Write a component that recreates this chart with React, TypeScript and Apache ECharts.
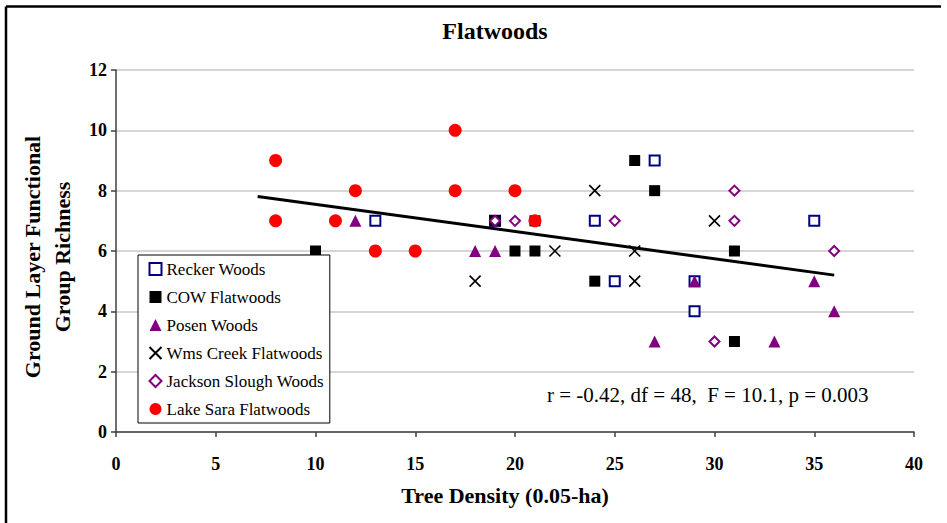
import React, { useEffect, useRef } from "react";
import * as echarts from "echarts";

const xTicks = [0, 5, 10, 15, 20, 25, 30, 35, 40];
const yTicks = [0, 2, 4, 6, 8, 10, 12];

const reckerX = [13, 19, 24, 25, 27, 29, 29, 35];
const reckerY = [7, 7, 7, 5, 9, 5, 4, 7];

const cowX = [10, 19, 20, 21, 21, 24, 26, 27, 31, 31];
const cowY = [6, 7, 6, 6, 7, 5, 9, 8, 6, 3];

const posenX = [12, 18, 19, 29, 35, 36, 27, 33];
const posenY = [7, 6, 6, 5, 5, 4, 3, 3];

const wmsX = [18, 19, 22, 24, 26, 26, 30];
const wmsY = [5, 7, 6, 8, 6, 5, 7];

const jacksonX = [19, 20, 25, 31, 31, 36, 30];
const jacksonY = [7, 7, 7, 8, 7, 6, 3];

const saraX = [8, 8, 11, 12, 13, 15, 17, 17, 20, 21];
const saraY = [9, 7, 7, 8, 6, 6, 8, 10, 8, 7];

const trendX = [7.1, 36];
const trendY = [7.81, 5.2];

const seriesNames = [
  "Recker Woods",
  "COW Flatwoods",
  "Posen Woods",
  "Wms Creek Flatwoods",
  "Jackson Slough Woods",
  "Lake Sara Flatwoods",
];

const FONT = "Liberation Serif";

const zip = (xs: number[], ys: number[]) => xs.map((x, i) => [x, ys[i]]);

export default function App() {
  const ref = useRef<HTMLDivElement>(null);
  useEffect(() => {
    if (!ref.current) return;
    const chart = echarts.init(ref.current, null, { renderer: "svg" });
    chart.setOption({
      animation: false,
      backgroundColor: "#ffffff",
      textStyle: { fontFamily: FONT },
      grid: { left: 116, right: 33, top: 70, bottom: 91, containLabel: false },
      xAxis: {
        type: "value",
        min: xTicks[0],
        max: xTicks[xTicks.length - 1],
        interval: 5,
        axisLine: { show: true, onZero: false, lineStyle: { color: "#404040", width: 1.5 } },
        axisTick: { show: true, inside: false, length: 5, lineStyle: { color: "#404040", width: 1.5 } },
        axisLabel: { margin: 23, color: "#000", fontFamily: FONT, fontWeight: "bold", fontSize: 18 },
        splitLine: { show: false },
      },
      yAxis: {
        type: "value",
        min: yTicks[0],
        max: yTicks[yTicks.length - 1],
        interval: 2,
        axisLine: { show: true, onZero: false, lineStyle: { color: "#404040", width: 1.5 } },
        axisTick: { show: true, inside: false, length: 5, lineStyle: { color: "#404040", width: 1.5 } },
        axisLabel: { margin: 9, color: "#000", fontFamily: FONT, fontWeight: "bold", fontSize: 18 },
        splitLine: { show: true, lineStyle: { color: "#c8c8c8", width: 1.5 } },
      },
      legend: {
        show: true,
        orient: "vertical",
        left: 138,
        top: 255,
        data: seriesNames,
        itemWidth: 12,
        itemHeight: 12,
        itemGap: 10,
        padding: [5, 6, 5, 9],
        backgroundColor: "#ffffff",
        borderColor: "#000",
        borderWidth: 1,
        borderRadius: 0,
        textStyle: { fontFamily: FONT, fontSize: 17, lineHeight: 18, color: "#000" },
      },
      graphic: [
        { type: "line", shape: { x1: 6, y1: 6.5, x2: 941, y2: 6.5 }, style: { stroke: "#000", lineWidth: 2.5 } },
        { type: "line", shape: { x1: 6, y1: 6.5, x2: 6, y2: 523 }, style: { stroke: "#000", lineWidth: 2.5 } },
        {
          type: "text",
          x: 495,
          y: 31,
          style: { text: "Flatwoods", font: `bold 24px "${FONT}"`, fill: "#000", textAlign: "center", textVerticalAlign: "middle" },
        },
        {
          type: "text",
          x: 47,
          y: 257,
          rotation: Math.PI / 2,
          style: {
            text: "Ground Layer Functional\nGroup Richness",
            font: `bold 22px "${FONT}"`,
            fill: "#000",
            textAlign: "center",
            textVerticalAlign: "middle",
            lineHeight: 30,
          },
        },
        {
          type: "text",
          x: 505,
          y: 495,
          style: { text: "Tree Density (0.05-ha)", font: `bold 22px "${FONT}"`, fill: "#000", textAlign: "center", textVerticalAlign: "middle" },
        },
        {
          type: "text",
          x: 547,
          y: 395,
          z: 10,
          style: { text: "r = -0.42, df = 48,  F = 10.1, p = 0.003", font: `21px "${FONT}"`, fill: "#000", textAlign: "left", textVerticalAlign: "middle" },
        },
      ],
      series: [
        {
          name: "trend",
          type: "line",
          data: zip(trendX, trendY),
          showSymbol: false,
          symbol: "none",
          lineStyle: { color: "#000", width: 3 },
          z: 1,
        },
        {
          name: seriesNames[0],
          type: "scatter",
          data: zip(reckerX, reckerY),
          symbol: "rect",
          symbolSize: 10,
          itemStyle: { color: "#ffffff", borderColor: "#000080", borderWidth: 2, opacity: 1 },
          z: 2,
        },
        {
          name: seriesNames[1],
          type: "scatter",
          data: zip(cowX, cowY),
          symbol: "rect",
          symbolSize: 11,
          itemStyle: { color: "#000000", opacity: 1 },
          z: 3,
        },
        {
          name: seriesNames[2],
          type: "scatter",
          data: zip(posenX, posenY),
          symbol: "triangle",
          symbolSize: 12,
          itemStyle: { color: "#800080", opacity: 1 },
          z: 4,
        },
        {
          name: seriesNames[3],
          type: "scatter",
          data: zip(wmsX, wmsY),
          symbol: "path://M0,0L10,10M10,0L0,10",
          symbolSize: 11,
          itemStyle: { color: "none", borderColor: "#000", borderWidth: 1.6, opacity: 1 },
          z: 5,
        },
        {
          name: seriesNames[4],
          type: "scatter",
          data: zip(jacksonX, jacksonY),
          symbol: "diamond",
          symbolSize: 10,
          itemStyle: { color: "#ffffff", borderColor: "#800080", borderWidth: 2, opacity: 1 },
          z: 6,
        },
        {
          name: seriesNames[5],
          type: "scatter",
          data: zip(saraX, saraY),
          symbol: "circle",
          symbolSize: 13,
          itemStyle: { color: "#ff0000", opacity: 1 },
          z: 7,
        },
      ],
    });
    return () => chart.dispose();
  }, []);
  return <div ref={ref} style={{ position: "fixed", left: 0, top: 0, width: 947, height: 523 }} />;
}
